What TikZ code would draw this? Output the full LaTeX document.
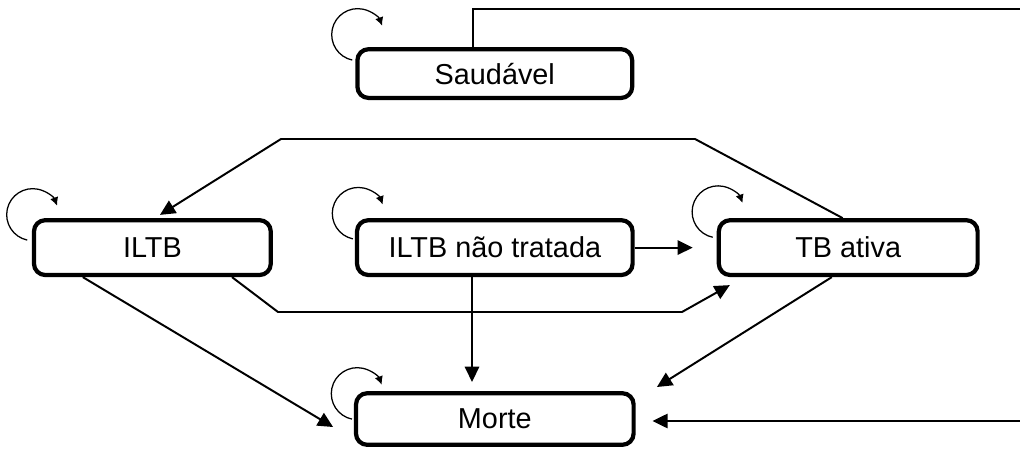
\documentclass[tikz,border=0pt]{standalone}
\usepackage{fontspec}
\setmainfont{Liberation Sans}
\usepackage{tikz}
\usetikzlibrary{arrows.meta, positioning, calc}
\tikzset{
  % Box styles
  statebox/.style={rectangle, rounded corners=8pt, draw=black, line width=3pt, fill=white, minimum height=1.37cm, inner sep=2pt, font=\fontsize{20.5}{24}\selectfont, align=center},
  % Arrow styles
  line/.style={line width=1.4pt, black},
  arrow/.style={-{Triangle[length=0.38cm,width=0.36cm]}, line width=1.4pt, black},
  selfloop/.style={-{Latex[length=6pt,width=6pt]}, line width=0.9pt, black}
}
\begin{document}
\begin{tikzpicture}
  \useasboundingbox (0,0) rectangle (25.5,-11.325);

  % States
  \node[statebox, minimum width=6.89cm] (nt) at (12.37,-6.19) {ILTB não tratada};
  \node[statebox, minimum width=5.92cm, left=2.05cm of nt] (iltb) {ILTB};
  \node[statebox, minimum width=6.47cm, right=2.05cm of nt] (tb) {TB ativa};
  \node[statebox, minimum width=6.87cm, minimum height=1.22cm, above=2.95cm of nt] (sau) {Saudável};
  \node[statebox, minimum width=6.94cm, minimum height=1.29cm, below=2.85cm of nt] (morte) {Morte};

  % Free ends at the right margin
  \coordinate (offtop) at (25.6,-0.225);
  \coordinate (offbot) at (25.6,-10.525);

  % Transitions
  \draw[line] ([xshift=-0.54cm]sau.north) |- (offtop);
  \draw[arrow, shorten >=0.42cm] (offbot) -- (offbot -| morte.east);
  \draw[arrow] ([xshift=-0.14cm]tb.north) -- (17.375,-3.475) -- (7.025,-3.475) -- ([xshift=0.19cm,yshift=0.08cm]iltb.north);
  \draw[arrow] ([xshift=1.99cm]iltb.south) -- (6.95,-7.8) -- (17.05,-7.8) -- ([xshift=-2.96cm,yshift=-0.2cm]tb.south);
  \draw[arrow, shorten >=0.6cm] (nt.east) -- (tb.west);
  \draw[arrow] ([xshift=-0.57cm]nt.south) -- ([xshift=-0.57cm,yshift=0.23cm]morte.north);
  \draw[arrow] ([xshift=-1.74cm]iltb.south) -- ([xshift=-0.52cm,yshift=-0.2cm]morte.west);
  \draw[arrow] ([xshift=-0.41cm]tb.south) -- ([xshift=0.53cm,yshift=0.8cm]morte.east);

  % Self loops
  \draw[selfloop] ([xshift=-0.075cm,yshift=-0.325cm]sau.north west) arc[start angle=258, end angle=20, radius=0.65cm];
  \draw[selfloop] ([xshift=-0.115cm,yshift=-0.55cm]iltb.north west) arc[start angle=258, end angle=20, radius=0.65cm];
  \draw[selfloop] ([xshift=-0.05cm,yshift=-0.52cm]nt.north west) arc[start angle=258, end angle=20, radius=0.65cm];
  \draw[selfloop] ([xshift=-0.1cm,yshift=-0.48cm]tb.north west) arc[start angle=258, end angle=20, radius=0.65cm];
  \draw[selfloop] ([xshift=-0.05cm,yshift=-0.7cm]morte.north west) arc[start angle=258, end angle=20, radius=0.65cm];
\end{tikzpicture}
\end{document}
